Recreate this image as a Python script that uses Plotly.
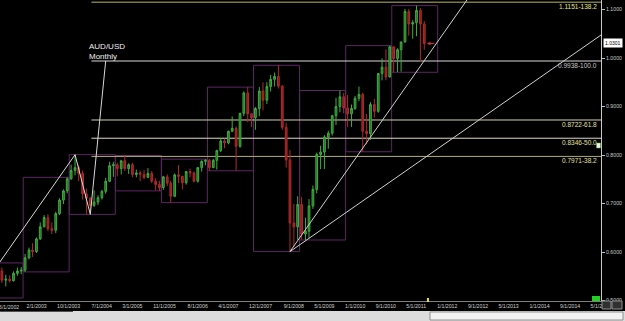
import plotly.graph_objects as go
import pandas as pd

FONT = "Liberation Sans"

# ---------------- data: AUD/USD monthly OHLC, Jan 2002 .. Sep 2011 ----------------
open_ = [
    0.5105, 0.5095, 0.5185, 0.5330, 0.5420, 0.5660, 0.5610, 0.5420, 0.5440, 0.5410, 0.5560, 0.5610,  # 2002
    0.5625, 0.5880, 0.6040, 0.6010, 0.6270, 0.6520, 0.6710, 0.6480, 0.6450, 0.6790, 0.7070, 0.7260,  # 2003
    0.7510, 0.7680, 0.7740, 0.7620, 0.7200, 0.7110, 0.6960, 0.7030, 0.7120, 0.7250, 0.7460, 0.7780,  # 2004
    0.7800, 0.7720, 0.7880, 0.7720, 0.7800, 0.7600, 0.7630, 0.7600, 0.7540, 0.7620, 0.7460, 0.7390,  # 2005
    0.7330, 0.7550, 0.7420, 0.7150, 0.7590, 0.7560, 0.7430, 0.7660, 0.7630, 0.7460, 0.7740, 0.7870,  # 2006
    0.7890, 0.7740, 0.7890, 0.8090, 0.8290, 0.8250, 0.8490, 0.8550, 0.8180, 0.8860, 0.9280, 0.8850,  # 2007
    0.8770, 0.8960, 0.9320, 0.9130, 0.9410, 0.9560, 0.9620, 0.9420, 0.8570, 0.7900, 0.6600, 0.6520,  # 2008
    0.6980, 0.6370, 0.6430, 0.6950, 0.7290, 0.8010, 0.8060, 0.8370, 0.8450, 0.8810, 0.9000, 0.9200,  # 2009
    0.8970, 0.8850, 0.8960, 0.9170, 0.9250, 0.8490, 0.8440, 0.9040, 0.8900, 0.9680, 0.9810, 0.9610,  # 2010
    1.0230, 0.9990, 1.0170, 1.0330, 1.0960, 1.0700, 1.0730, 1.0980, 1.0700,                          # 2011
]
high = [
    0.5215, 0.5225, 0.5370, 0.5445, 0.5690, 0.5775, 0.5680, 0.5530, 0.5520, 0.5600, 0.5680, 0.5690,
    0.5960, 0.6090, 0.6180, 0.6300, 0.6610, 0.6760, 0.6780, 0.6610, 0.6830, 0.7110, 0.7290, 0.7540,
    0.7800, 0.8007, 0.7790, 0.7680, 0.7310, 0.7130, 0.7270, 0.7170, 0.7280, 0.7530, 0.7860, 0.7860,
    0.7840, 0.7900, 0.7990, 0.7830, 0.7840, 0.7700, 0.7680, 0.7690, 0.7730, 0.7670, 0.7520, 0.7470,
    0.7570, 0.7600, 0.7470, 0.7620, 0.7792, 0.7570, 0.7670, 0.7720, 0.7660, 0.7750, 0.7890, 0.7914,
    0.7920, 0.7920, 0.8110, 0.8350, 0.8340, 0.8500, 0.8795, 0.8590, 0.8870, 0.9311, 0.9400, 0.8860,
    0.8990, 0.9400, 0.9500, 0.9500, 0.9650, 0.9700, 0.9850, 0.9440, 0.8660, 0.8100, 0.6990, 0.7150,
    0.7130, 0.6710, 0.7090, 0.7370, 0.8050, 0.8190, 0.8410, 0.8500, 0.8830, 0.9180, 0.9330, 0.9280,
    0.9240, 0.9040, 0.9220, 0.9410, 0.9280, 0.8850, 0.9090, 0.9160, 0.9690, 0.9990, 1.0180, 1.0255,
    1.0230, 1.0200, 1.0340, 1.1010, 1.1010, 1.0780, 1.1080, 1.1030, 1.0760,
]
low = [
    0.5052, 0.5075, 0.5140, 0.5250, 0.5390, 0.5560, 0.5360, 0.5290, 0.5370, 0.5390, 0.5510, 0.5540,
    0.5590, 0.5850, 0.5900, 0.5980, 0.6250, 0.6510, 0.6430, 0.6370, 0.6390, 0.6760, 0.6990, 0.7210,
    0.7490, 0.7580, 0.7460, 0.7080, 0.6776, 0.6830, 0.6930, 0.6970, 0.7080, 0.7200, 0.7440, 0.7550,
    0.7560, 0.7600, 0.7670, 0.7610, 0.7540, 0.7540, 0.7460, 0.7500, 0.7520, 0.7420, 0.7270, 0.7260,
    0.7280, 0.7360, 0.7018, 0.7130, 0.7420, 0.7290, 0.7390, 0.7540, 0.7440, 0.7430, 0.7660, 0.7790,
    0.7675, 0.7730, 0.7700, 0.8060, 0.8140, 0.8220, 0.8470, 0.7676, 0.8150, 0.8800, 0.8680, 0.8580,
    0.8520, 0.8800, 0.8920, 0.9050, 0.9310, 0.9410, 0.9370, 0.8520, 0.7740, 0.6009, 0.6100, 0.6250,
    0.6260, 0.6248, 0.6280, 0.6890, 0.7210, 0.7710, 0.7710, 0.8130, 0.8400, 0.8620, 0.8880, 0.8860,
    0.8580, 0.8580, 0.8930, 0.9110, 0.8067, 0.8220, 0.8310, 0.8770, 0.8870, 0.9540, 0.9540, 0.9600,
    0.9706, 0.9710, 0.9720, 1.0320, 1.0460, 1.0400, 1.0450, 0.9920, 1.0170,
]
close = [
    0.5095, 0.5185, 0.5330, 0.5420, 0.5660, 0.5620, 0.5420, 0.5440, 0.5410, 0.5560, 0.5610, 0.5625,
    0.5880, 0.6040, 0.6010, 0.6270, 0.6520, 0.6710, 0.6480, 0.6450, 0.6790, 0.7070, 0.7260, 0.7510,
    0.7680, 0.7740, 0.7620, 0.7200, 0.7110, 0.6960, 0.7030, 0.7120, 0.7250, 0.7460, 0.7780, 0.7800,
    0.7720, 0.7880, 0.7720, 0.7800, 0.7600, 0.7630, 0.7600, 0.7540, 0.7620, 0.7460, 0.7390, 0.7330,
    0.7550, 0.7420, 0.7150, 0.7590, 0.7560, 0.7430, 0.7660, 0.7630, 0.7460, 0.7740, 0.7870, 0.7890,
    0.7740, 0.7890, 0.8090, 0.8290, 0.8250, 0.8490, 0.8550, 0.8180, 0.8860, 0.9280, 0.8850, 0.8770,
    0.8960, 0.9320, 0.9130, 0.9410, 0.9560, 0.9620, 0.9420, 0.8570, 0.7900, 0.6600, 0.6520, 0.6980,
    0.6370, 0.6430, 0.6950, 0.7290, 0.8010, 0.8060, 0.8370, 0.8450, 0.8810, 0.9000, 0.9200, 0.8970,
    0.8850, 0.8960, 0.9170, 0.9250, 0.8490, 0.8440, 0.9040, 0.8900, 0.9680, 0.9810, 0.9610, 1.0230,
    0.9990, 1.0170, 1.0330, 1.0960, 1.0700, 1.0730, 1.0980, 1.0700, 1.0301,
]
months = pd.date_range("2002-01-01", periods=len(close), freq="MS")
last_price = 1.0301

# x-axis tick labels
tick_dates = ["2003-02-01", "2003-10-01", "2004-07-01", "2005-03-01", "2005-11-01", "2006-08-01",
              "2007-04-01", "2007-12-01", "2008-09-01", "2009-05-01", "2010-01-01", "2010-09-01",
              "2011-05-01", "2012-01-01", "2012-09-01", "2013-05-01", "2014-01-01", "2014-09-01",
              "2015-05-01"]
tick_text = ["2/1/2003", "10/1/2003", "7/1/2004", "3/1/2005", "11/1/2005", "8/1/2006",
             "4/1/2007", "12/1/2007", "9/1/2008", "5/1/2009", "1/1/2010", "9/1/2010",
             "5/1/2011", "1/1/2012", "9/1/2012", "5/1/2013", "1/1/2014", "9/1/2014", "5/1/2015"]

# y-axis ticks
y_ticks = [0.5, 0.6, 0.7, 0.8, 0.9, 1.0, 1.1]
y_tick_text = ["0.5000", "0.6000", "0.7000", "0.8000", "0.9000", "1.0000", "1.1000"]

# Fibonacci extension levels
fib_prices = [1.1151, 0.9938, 0.8722, 0.8346, 0.7971]
fib_pcts = ["138.2", "100.0", "61.8", "50.0", "38.2"]
fib_line_colors = ["#b8b860", "#d8d8d8", "#d8d0b0", "#e0dcc0", "#b4b070"]
fib_text_colors = ["#e8e890", "#c8c8c8", "#e0e0a0", "#e0e0a0", "#e0e0a0"]
fib_start = "2004-06-10"

# zig-zag / projection line
zz_dates = ["2001-10-01", "2004-02-01", "2004-06-01", "2004-10-01"]
zz_prices = [0.4840, 0.8007, 0.6776, 0.9938]

# trend lines from the 2008 low
tl_start = ("2008-10-01", 0.6009)
tl_steep_end = ("2012-08-04", 1.1196)
tl_shallow_end = ("2015-07-03", 1.0474)

x_range = ["2002-06-16", "2015-07-03"]
y_range = [0.499, 1.1196]

# ---------------- layout helpers (pixels -> paper) ----------------
W, H = 625, 321
ML, MR, MT, MB = 0, 24, 0, 20
PW, PH = W - ML - MR, H - MT - MB


def px(xp):
    return (xp - ML) / PW


def py(yp):
    return (H - MB - yp) / PH


fig = go.Figure()

# yearly range boxes (computed from the OHLC data)
df = pd.DataFrame({"d": months, "h": high, "l": low})
shapes = []
for yr, g in df.groupby(df["d"].dt.year):
    shapes.append(dict(type="rect", xref="x", yref="y", layer="below",
                       x0=f"{yr - 1}-12-17", x1=f"{yr}-12-16",
                       y0=g["l"].min(), y1=g["h"].max(),
                       line=dict(color="#5c2662", width=1), fillcolor="rgba(0,0,0,0)"))

# fib horizontal lines
for p, c in zip(fib_prices, fib_line_colors):
    shapes.append(dict(type="line", xref="x", yref="y", layer="below",
                       x0=fib_start, x1=x_range[1], y0=p, y1=p,
                       line=dict(color=c, width=1)))

fig.add_trace(go.Candlestick(
    x=months, open=open_, high=high, low=low, close=close,
    increasing=dict(line=dict(color="#3fae3f", width=1), fillcolor="#226e22"),
    decreasing=dict(line=dict(color="#b02a2a", width=1), fillcolor="#8a1d1d"),
    whiskerwidth=0, hoverinfo="skip", showlegend=False,
))

fig.add_trace(go.Scatter(x=zz_dates, y=zz_prices, mode="lines",
                         line=dict(color="#d8d8d8", width=1), hoverinfo="skip", showlegend=False))
fig.add_trace(go.Scatter(x=[tl_start[0], tl_steep_end[0]], y=[tl_start[1], tl_steep_end[1]],
                         mode="lines", line=dict(color="#d0d0d0", width=1),
                         hoverinfo="skip", showlegend=False))
fig.add_trace(go.Scatter(x=[tl_start[0], tl_shallow_end[0]], y=[tl_start[1], tl_shallow_end[1]],
                         mode="lines", line=dict(color="#d0d0d0", width=1),
                         hoverinfo="skip", showlegend=False))

annotations = []
for p, pct, tc in zip(fib_prices, fib_pcts, fib_text_colors):
    annotations.append(dict(xref="paper", yref="y", x=1, y=p, xanchor="right", yanchor="top",
                            xshift=-2, yshift=1, showarrow=False, text=f"{p:.4f}-{pct}",
                            font=dict(family=FONT, size=6.5, color=tc)))

annotations.append(dict(xref="paper", yref="paper", x=px(87), y=py(40), xanchor="left", yanchor="top",
                        showarrow=False, align="left", text="AUD/USD<br>Monthly",
                        font=dict(family=FONT, size=8, color="#f0f0f0")))

# current price box
annotations.append(dict(xref="paper", yref="y", x=1, y=last_price, xanchor="left", yanchor="middle",
                        xshift=2, showarrow=False, text=f"{last_price:.4f}", bgcolor="#ffffff",
                        borderpad=1, font=dict(family=FONT, size=5, color="#000000")))
# red arrow pointing at the last bar
annotations.append(dict(xref="x", yref="y", x="2011-09-22", y=last_price, ax=9, ay=0,
                        showarrow=True, arrowhead=2, arrowsize=0.7, arrowwidth=1,
                        arrowcolor="#d03030", text=""))
# partially visible first date label
annotations.append(dict(xref="paper", yref="paper", x=px(-3), y=py(302), xanchor="left", yanchor="top",
                        showarrow=False, text="6/1/2002",
                        font=dict(family=FONT, size=5.2, color="#d0d0d0")))

# decorations outside / on the plot area
shapes += [
    dict(type="rect", xref="paper", yref="paper", x0=px(0), x1=px(625), y0=py(311), y1=py(321.5),
         line=dict(width=0), fillcolor="#dcdcdc"),
    dict(type="line", xref="paper", yref="paper", x0=px(0), x1=px(73), y0=py(311.5), y1=py(311.5),
         line=dict(color="#505050", width=1)),
    dict(type="rect", xref="paper", yref="paper", x0=px(430), x1=px(623), y0=py(312), y1=py(320),
         line=dict(color="#909090", width=1), fillcolor="#f2f2f2"),
    dict(type="rect", xref="paper", yref="paper", x0=px(592), x1=px(600), y0=py(301), y1=py(296),
         line=dict(width=0), fillcolor="#22d022"),
    dict(type="rect", xref="paper", yref="paper", x0=px(602), x1=px(611), y0=py(309), y1=py(301),
         line=dict(color="#909090", width=1), fillcolor="#303030"),
    dict(type="rect", xref="paper", yref="paper", x0=px(612), x1=px(622), y0=py(309), y1=py(301),
         line=dict(color="#909090", width=1), fillcolor="#303030"),
    dict(type="rect", xref="paper", yref="paper", x0=px(596.5), x1=px(600.5), y0=py(148), y1=py(143),
         line=dict(color="#40c040", width=0.5), fillcolor="#f0f0f0"),
    dict(type="rect", xref="x", yref="paper", x0="2011-09-22", x1="2011-10-08", y0=py(302), y1=py(298),
         line=dict(width=0), fillcolor="#e8e040"),
]

fig.update_layout(
    width=W, height=H,
    margin=dict(l=ML, r=MR, t=MT, b=MB, pad=0),
    paper_bgcolor="#000000", plot_bgcolor="#000000",
    showlegend=False,
    shapes=shapes, annotations=annotations,
    xaxis=dict(type="date", range=x_range, tickvals=tick_dates, ticktext=tick_text,
               tickfont=dict(family=FONT, size=5.2, color="#d0d0d0"),
               ticklabelposition="outside right", ticklabelshift=-3,
               showgrid=False, zeroline=False, showline=True, linecolor="#808080", linewidth=1,
               ticks="", rangeslider=dict(visible=False), automargin=False, fixedrange=True),
    yaxis=dict(side="right", range=y_range, tickvals=y_ticks, ticktext=y_tick_text,
               tickfont=dict(family=FONT, size=5.2, color="#c8c8c8"),
               ticks="outside", ticklen=3, tickcolor="#c0c0c0",
               showgrid=False, zeroline=False, showline=True, linecolor="#c8c8c8", linewidth=1,
               automargin=False, fixedrange=True),
)

fig.write_html("out.html")
